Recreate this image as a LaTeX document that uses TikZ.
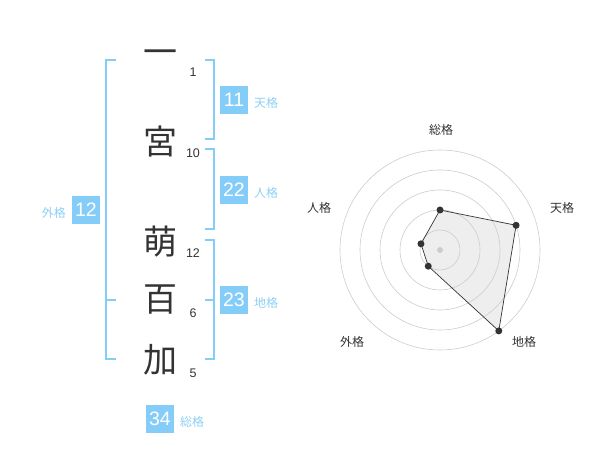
\documentclass[tikz,border=0pt]{standalone}
\usepackage{fontspec}
\setmainfont{Liberation Sans}
\newfontfamily\jp{Noto Sans CJK JP}
\definecolor{skyb}{HTML}{85CDF9}
\definecolor{skyt}{HTML}{8ED0F4}
\definecolor{ink}{HTML}{333333}
\definecolor{ring}{HTML}{CCCCCC}
\definecolor{area}{HTML}{EEEEEE}
\tikzset{
  kanji/.style={font=\jp\fontsize{34}{34}\selectfont, text=ink, inner sep=0pt},
  strokes/.style={font=\fontsize{12.5}{12.5}\selectfont, text=ink, inner sep=0pt},
  gbox/.style={fill=skyb, text=white, minimum width=28pt, minimum height=28pt, inner sep=0pt, font=\fontsize{19.5}{19.5}\selectfont},
  glabel/.style={text=skyt, font=\jp\fontsize{12}{12}\selectfont, inner sep=0pt},
  bracket/.style={draw=skyb, line width=1.6pt},
  rlabel/.style={text=ink, font=\jp\fontsize{12}{12}\selectfont, inner sep=0pt},
  ringc/.style={draw=ring, line width=0.6pt},
  pt/.style={circle, fill=ink, inner sep=0pt, minimum size=7pt}
}
\begin{document}
\begin{tikzpicture}[x=1pt,y=-1pt]
\useasboundingbox (0,0) rectangle (600,470);
% kanji
\node[kanji] (k1) at (160,57) {一};
\node[kanji] (k2) at (160,142) {宮};
\node[kanji] (k3) at (160,242) {萌};
\node[kanji] (k4) at (160,300) {百};
\node[kanji] (k5) at (160,360) {加};
% stroke counts
\node[strokes] (n1) at (193,72) {1};
\node[strokes] (n2) at (193,153) {10};
\node[strokes] (n3) at (193,253) {12};
\node[strokes] (n4) at (193,313) {6};
\node[strokes] (n5) at (193,373) {5};
% brackets
\draw[bracket] (116,60) -- (106,60) -- (106,359) -- (116,359);
\draw[bracket] (106,300) -- (116,300);
\draw[bracket] (205,60) -- (214,60) -- (214,139) -- (205,139);
\draw[bracket] (205,149) -- (214,149) -- (214,229) -- (205,229);
\draw[bracket] (205,240) -- (214,240) -- (214,359) -- (205,359);
\draw[bracket] (205,300) -- (214,300);
% boxes
\node[gbox] (b11) at (234,100) {11};
\node[glabel, anchor=west] (l11) at (254,103) {天格};
\node[gbox] (b22) at (234,190) {22};
\node[glabel, anchor=west] (l22) at (254,193) {人格};
\node[gbox] (b23) at (234,300) {23};
\node[glabel, anchor=west] (l23) at (254,303) {地格};
\node[gbox] (b12) at (86,210) {12};
\node[glabel, anchor=east] (l12) at (66,213) {外格};
\node[gbox] (b34) at (160,419) {34};
\node[glabel, anchor=west] (l34) at (180,422) {総格};
% radar
\coordinate (c) at (440,250);
\path (c) ++(0,-40) coordinate (pa);
\path (c) ++({80*cos(18)},{-80*sin(18)}) coordinate (pb);
\path (c) ++({100*cos(54)},{100*sin(54)}) coordinate (pc);
\path (c) ++({-20*cos(54)},{20*sin(54)}) coordinate (pd);
\path (c) ++({-20*cos(18)},{-20*sin(18)}) coordinate (pe);
\fill[area] (pa) -- (pb) -- (pc) -- (pd) -- (pe) -- cycle;
\foreach \r in {20,40,60,80,100} \draw[ringc] (c) circle[radius=\r];
\draw[ink, line width=0.7pt] (pa) -- (pb) -- (pc) -- (pd) -- (pe) -- cycle;
\node[pt] (qa) at (pa) {};
\node[pt] (qb) at (pb) {};
\node[pt] (qc) at (pc) {};
\node[pt] (qd) at (pd) {};
\node[pt] (qe) at (pe) {};
\node[circle, fill=ring, inner sep=0pt, minimum size=6pt] (cd) at (c) {};
\node[rlabel] (r1) at (441,130) {総格};
\node[rlabel] (r2) at (562,208) {天格};
\node[rlabel] (r3) at (319,208) {人格};
\node[rlabel] (r4) at (352,342) {外格};
\node[rlabel] (r5) at (524,342) {地格};
\end{tikzpicture}
\end{document}
